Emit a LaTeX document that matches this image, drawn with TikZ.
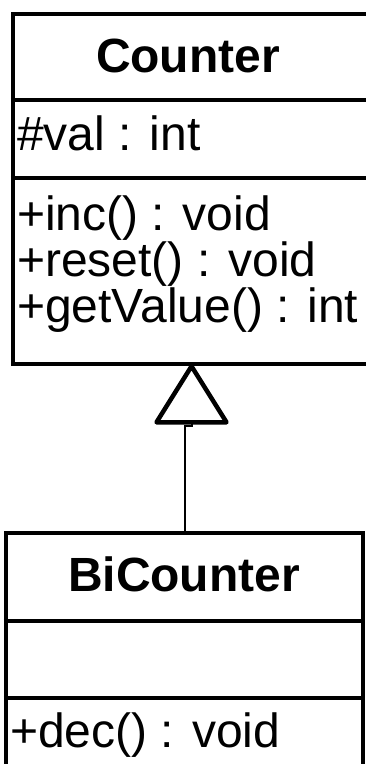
\documentclass[tikz,border=0pt]{standalone}
\usepackage{fontspec}
\setmainfont{Liberation Sans}

\begin{document}
\begin{tikzpicture}
        [x=1pt,y=-1pt,
        classbox/.style={draw,line width=4.5pt,inner sep=0,minimum width=357pt},
        classname/.style={anchor=base,inner sep=0,font=\fontsize{48}{55}\selectfont\bfseries},
        member/.style={anchor=base west,inner sep=0,font=\fontsize{48}{55}\selectfont},
        divider/.style={line width=4.5pt},
        gentri/.style={line width=4.5pt,line join=round,fill=white},
        genline/.style={line width=2pt}]

        \useasboundingbox (0,0) rectangle (366,764);

        \node[classbox,minimum width=365pt,minimum height=350pt] (counter) at (195.5,189) {};
        \node[classbox,minimum height=237pt] (bicounter) at (184.5,651.5) {};

        \draw[divider] (counter.west |- 0,100) -- (counter.east |- 0,100);
        \draw[divider] (counter.west |- 0,178) -- (counter.east |- 0,178);
        \draw[divider] (bicounter.west |- 0,621) -- (bicounter.east |- 0,621);
        \draw[divider] (bicounter.west |- 0,698) -- (bicounter.east |- 0,698);

        \node[classname] (n1) at (188,72) {Counter};
        \node[member] (a1) at (17,150) {\#val : int};
        \node[member] (m1) at (17,230) {+inc() : void};
        \node[member] (m2) at (17,276) {+reset() : void};
        \node[member] (m3) at (17,322) {+getValue() : int};

        \node[classname] (n2) at (184,591) {BiCounter};
        \node[member] (m4) at (10,747) {+dec() : void};

        \coordinate (apex) at ([xshift=-4pt]counter.south);
        \coordinate (tribase) at ([yshift=-56pt]apex);
        \draw[genline] (bicounter.north) -- ++(0,-105) -| (tribase);
        \draw[gentri] (apex) -- ++(-35,56) -- ++(70,0) -- cycle;

      \end{tikzpicture}
\end{document}
